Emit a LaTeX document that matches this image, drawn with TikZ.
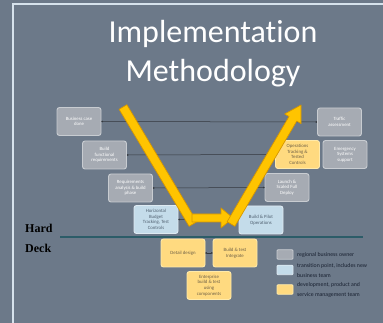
\documentclass[tikz,border=0pt]{standalone}
\usepackage{fontspec}
\setmainfont{Carlito}[Ligatures=NoCommon]
\newfontfamily\deckfont{Liberation Serif}
\usetikzlibrary{arrows.meta}
\definecolor{bg}{RGB}{108,121,137}
\definecolor{framec}{RGB}{214,226,236}
\definecolor{grayfill}{RGB}{166,171,179}
\definecolor{grayedge}{RGB}{200,204,209}
\definecolor{bluefill}{RGB}{196,220,234}
\definecolor{blueedge}{RGB}{222,234,242}
\definecolor{bluetext}{RGB}{80,96,112}
\definecolor{yelfill}{RGB}{255,218,128}
\definecolor{yeledge}{RGB}{255,234,170}
\definecolor{yeltext}{RGB}{110,96,70}
\definecolor{linec}{RGB}{52,56,62}
\definecolor{deckc}{RGB}{44,92,104}
\definecolor{arrowy}{RGB}{255,196,0}
\definecolor{arrowo}{RGB}{214,150,0}
\definecolor{legtext}{RGB}{24,32,48}
\begin{document}
\begin{tikzpicture}[x=1pt,y=-1pt,
  box/.style={rounded corners=2.5pt, minimum width=44pt, minimum height=28pt,
    inner sep=1pt, align=center, font=\fontsize{4.8}{5.6}\selectfont, line width=0.9pt},
  graybox/.style={box, fill=grayfill, draw=grayedge, text=white},
  bluebox/.style={box, fill=bluefill, draw=blueedge, text=bluetext},
  yelbox/.style={box, fill=yelfill, draw=yeledge, text=yeltext},
  conn/.style={draw=linec, line width=0.5pt, {Circle[length=1.6pt]}-{Circle[length=1.6pt]}},
  bigarrow/.style={fill=arrowy, draw=arrowo, line width=0.7pt, line join=round},
  swatch/.style={rounded corners=1pt, minimum width=16pt, minimum height=9.5pt, inner sep=0pt, line width=0.8pt},
  legtxt/.style={anchor=west, inner sep=0pt, text=legtext, align=left, font=\fontsize{5.8}{10}\selectfont},
  deck/.style={anchor=west, inner sep=0pt, font=\deckfont\bfseries\fontsize{12}{12}\selectfont, text=black}
]
\useasboundingbox (0,0) rectangle (383,323);
\fill[bg] (0,0) rectangle (383,323);
\draw[framec, line width=1.2pt] (13,330) -- (13,4) -- (390,4);

% title
\node[anchor=base, text=white, inner sep=0pt, font=\fontsize{32}{38}\selectfont] (t1) at (213,43) {Implementation};
\node[anchor=base, text=white, inner sep=0pt, font=\fontsize{32}{38}\selectfont] (t2) at (213,82) {Methodology};

% boxes
\node[graybox] (b1) at (79,121.5) {Business case\\done};
\node[graybox] (b2) at (104.5,155) {Build\\functional\\requirements};
\node[graybox] (b3) at (130.5,188) {Requirements\\analysis \& build\\phase};
\node[bluebox] (b4) at (156,219.5) {Horizontal\\Budget\\Tracking, Test\\Controls};
\node[graybox] (b5) at (339.5,122) {Traffic\\assessment};
\node[yelbox] (b6) at (297.5,154.5) {Operations\\Tracking \&\\Tested\\Controls};
\node[graybox] (b7) at (345,154.5) {Emergency\\Systems\\support};
\node[graybox] (b8) at (287,187.5) {Launch \&\\Scaled Full\\Deploy};
\node[bluebox] (b9) at (261,220) {Build \& Pilot\\Operations};
\node[yelbox] (b10) at (183,253) {Detail design};
\node[yelbox] (b11) at (235,253) {Build \& test\\Integrate};
\node[yelbox] (b12) at (209,285.5) {Enterprise\\build \& test\\using\\components};

% connectors
\draw[conn] (b1.east) -- (b5.west);
\draw[conn] (b2.east) -- (b6.west);
\draw[conn] (b3.east) -- (b8.west);
\draw[conn] (b4.east) -- (b9.west);
\draw[conn] (b10.east) -- (b11.west);

% hard deck
\coordinate (d1) at (60,237);
\coordinate (d2) at (363,237);
\draw[deckc, line width=2pt] (d1) -- (d2);
\node[deck] (hard) at (25,228) {Hard};
\node[deck] (deckw) at (25,248) {Deck};

% big arrows
\filldraw[bigarrow] (126.9,104.7) -- (119.1,109.3) -- (189.1,226.3) -- (196.9,221.7) -- cycle;
\filldraw[bigarrow] (192,214) -- (221,214) -- (221,208) -- (233,218) -- (221,228) -- (221,222) -- (192,222) -- cycle;
\filldraw[bigarrow] (227.12,221.72) -- (289.01,116.51) -- (284.70,113.97) -- (301,105)
  -- (301.08,123.61) -- (296.77,121.07) -- (234.88,226.28) -- cycle;

% legend
\node[swatch, fill=grayfill, draw=grayedge] (s1) at (285,254.5) {};
\node[swatch, fill=bluefill, draw=blueedge] (s2) at (285,270) {};
\node[swatch, fill=yelfill, draw=yeledge] (s3) at (285,289.5) {};
\node[legtxt] (lt1) at (297,254.5) {regional business owner};
\node[legtxt] (lt2) at (297,271) {transition point, includes new\\business team};
\node[legtxt] (lt3) at (297,290) {development, product and\\service management team};
\end{tikzpicture}
\end{document}
